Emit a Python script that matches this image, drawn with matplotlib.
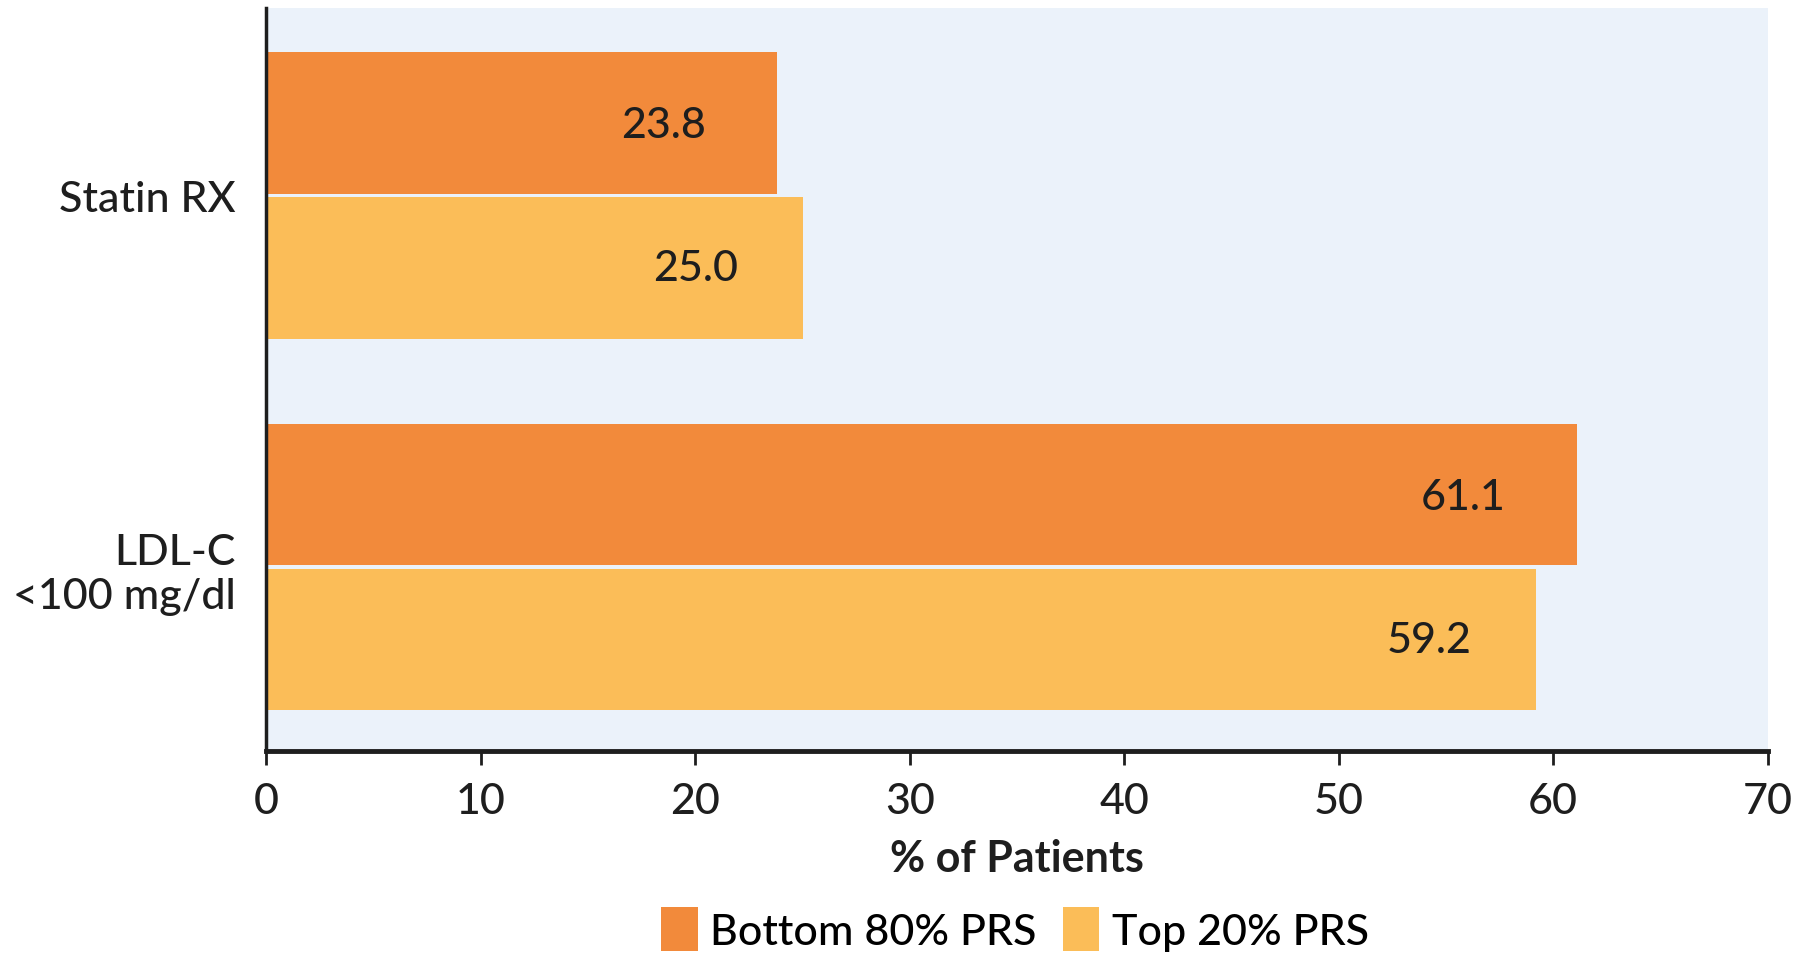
import numpy as np
import matplotlib
matplotlib.use('Agg')
import matplotlib.pyplot as plt
from matplotlib.patches import Patch

categories = ['Statin RX', 'LDL-C\n<100 mg/dl']
bottom80 = [23.8, 61.1]
top20 = [25.0, 59.2]
series_names = ['Bottom 80% PRS', 'Top 20% PRS']
xticks = [0, 10, 20, 30, 40, 50, 60, 70]

c_bottom = '#F28A3B'
c_top = '#FBBD58'
bg = '#EBF2FA'
dark = '#1E1E1E'

plt.rcParams['font.family'] = ['Lato', 'DejaVu Sans']
plt.rcParams['font.weight'] = 'medium'
fs = 31

fig = plt.figure(figsize=(18, 9.62), dpi=100)
ax = fig.add_axes([0.148, 0.218, 0.834, 0.773])
ax.set_facecolor(bg)

y = np.arange(len(categories))
h = 0.38
ax.barh(y - 0.195, bottom80, height=h, color=c_bottom, edgecolor='none')
ax.barh(y + 0.195, top20, height=h, color=c_top, edgecolor='none')

# Werte in den Balken
for yi, v in zip(y, bottom80):
    ax.text(v - 5.3, yi - 0.19, f'{v:.1f}', ha='center', va='center',
            fontsize=fs, color=dark)
for yi, v in zip(y, top20):
    ax.text(v - 5.0, yi + 0.195, f'{v:.1f}', ha='center', va='center',
            fontsize=fs, color=dark)

ax.set_xlim(0, 70)
ax.set_ylim(1.495, -0.505)
ax.set_xticks(xticks)
ax.set_xticklabels([str(t) for t in xticks], fontsize=fs, color=dark)
ax.set_yticks(y)
ax.set_yticklabels(categories, fontsize=fs, color=dark, ha='right',
                   multialignment='right')
ax.tick_params(axis='y', length=0, pad=22)
ax.tick_params(axis='x', length=10, width=2, color=dark, pad=12)

for s in ['top', 'right']:
    ax.spines[s].set_visible(False)
ax.spines['left'].set_linewidth(2.5)
ax.spines['left'].set_color(dark)
ax.spines['bottom'].set_linewidth(3.5)
ax.spines['bottom'].set_color(dark)

ax.set_xlabel('% of Patients', fontsize=fs, fontweight='bold', color=dark,
              labelpad=13)

handles = [Patch(facecolor=c_bottom, edgecolor='none'),
           Patch(facecolor=c_top, edgecolor='none')]
fig.legend(handles, series_names, loc='center', bbox_to_anchor=(0.564, 0.033),
           ncol=2, frameon=False, fontsize=fs, handlelength=0.85,
           handleheight=1.2, handletextpad=0.3, columnspacing=0.6)

fig.savefig('out.png', dpi=100)
